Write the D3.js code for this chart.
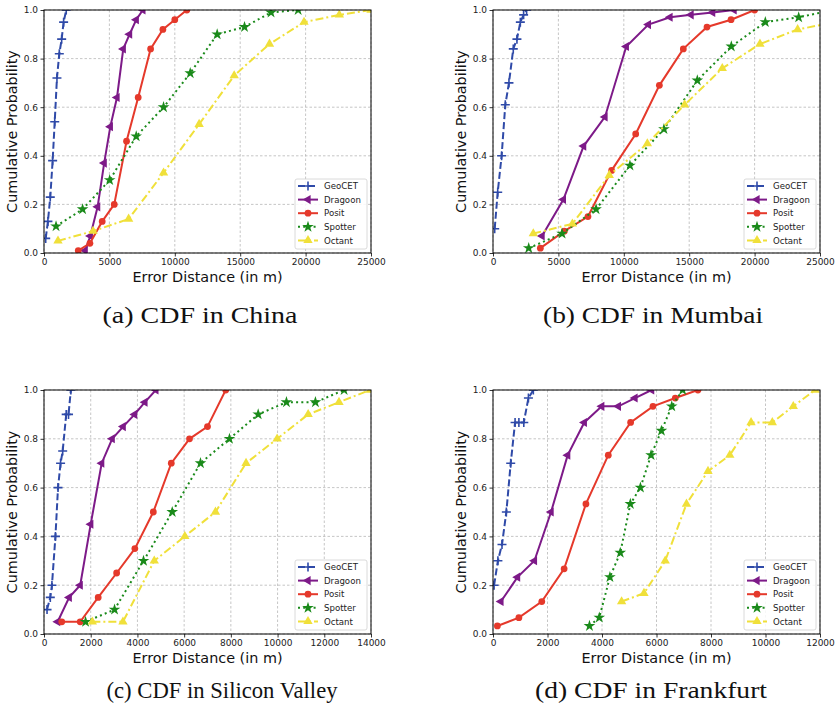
<!DOCTYPE html>
<html>
<head>
<meta charset="utf-8">
<script src="https://cdn.jsdelivr.net/npm/d3@7"></script>
<style>
  html, body { margin: 0; padding: 0; background: #fff; }
  svg { display: block; }
</style>
</head>
<body>
<svg id="chart" width="839" height="706"></svg>
<script>
// ---------------- DATA ----------------
const seriesNames = ["GeoCET", "Dragoon", "Posit", "Spotter", "Octant"];
const yTicks = [0, 0.2, 0.4, 0.6, 0.8, 1.0];
const xTicksChina = [0, 5000, 10000, 15000, 20000, 25000];
const xTicksMumbai = [0, 5000, 10000, 15000, 20000, 25000];
const xTicksSV = [0, 2000, 4000, 6000, 8000, 10000, 12000, 14000];
const xTicksFF = [0, 2000, 4000, 6000, 8000, 10000, 12000];
const captions = ["(a) CDF in China", "(b) CDF in Mumbai", "(c) CDF in Silicon Valley", "(d) CDF in Frankfurt"];

// [error distance (m), cumulative probability]
const chinaGeoCET = [[130,0.06],[300,0.13],[480,0.23],[660,0.38],[820,0.54],[990,0.72],[1170,0.82],[1350,0.88],[1500,0.95],[1700,1.0]];
const chinaDragoon = [[3150,0.01],[3540,0.07],[4100,0.19],[4600,0.37],[5070,0.52],[5580,0.64],[6060,0.84],[6540,0.90],[7050,0.96],[7560,1.0]];
const chinaPosit = [[2620,0.01],[3510,0.04],[4450,0.13],[5370,0.20],[6310,0.46],[7200,0.64],[8150,0.84],[9090,0.92],[10000,0.96],[10920,1.0]];
const chinaSpotter = [[920,0.11],[2950,0.18],[5020,0.30],[7050,0.48],[9140,0.60],[11180,0.74],[13240,0.90],[15330,0.93],[17360,0.99],[19430,1.0]];
const chinaOctant = [[1070,0.05],[3750,0.09],[6470,0.14],[9140,0.33],[11860,0.53],[14540,0.73],[17240,0.86],[19880,0.95],[22580,0.98],[25000,1.0]];

const mumbaiGeoCET = [[130,0.10],[360,0.25],[660,0.40],[940,0.61],[1220,0.70],[1550,0.84],[1830,0.88],[2090,0.95],[2340,0.98],[2570,1.0]];
const mumbaiDragoon = [[3750,0.07],[5380,0.22],[6930,0.44],[8560,0.56],[10190,0.85],[11880,0.94],[13530,0.97],[15140,0.98],[16790,0.99],[18430,1.0]];
const mumbaiPosit = [[3620,0.02],[5450,0.09],[7260,0.15],[9070,0.34],[10910,0.49],[12720,0.69],[14550,0.84],[16360,0.93],[18200,0.96],[20000,1.0]];
const mumbaiSpotter = [[2730,0.02],[5280,0.08],[7880,0.18],[10470,0.36],[13070,0.51],[15620,0.71],[18220,0.85],[20820,0.95],[23370,0.97],[26000,1.0]];
const mumbaiOctant = [[3080,0.08],[6070,0.12],[8890,0.32],[11800,0.45],[14650,0.61],[17530,0.76],[20410,0.86],[23290,0.92],[26200,0.95]];

const svGeoCET = [[130,0.10],[270,0.15],[340,0.20],[490,0.40],[600,0.60],[710,0.70],[800,0.75],[950,0.90],[1050,0.90],[1150,1.0]];
const svDragoon = [[585,0.05],[1080,0.15],[1550,0.20],[2000,0.45],[2470,0.70],[2920,0.80],[3390,0.85],[3880,0.90],[4320,0.95],[4790,1.0]];
const svPosit = [[760,0.05],[1550,0.05],[2320,0.15],[3110,0.25],[3890,0.35],[4680,0.50],[5450,0.70],[6230,0.80],[7000,0.85],[7780,1.0]];
const svSpotter = [[1780,0.05],[3020,0.10],[4260,0.30],[5490,0.50],[6700,0.70],[7940,0.80],[9170,0.90],[10380,0.95],[11620,0.95],[12850,1.0]];
const svOctant = [[2070,0.05],[3380,0.05],[4720,0.30],[6030,0.40],[7340,0.50],[8650,0.70],[9980,0.80],[11310,0.90],[12630,0.95],[13960,1.0]];

const ffGeoCET = [[40,0.2],[180,0.3],[330,0.367],[490,0.5],[650,0.7],[810,0.867],[950,0.867],[1130,0.867],[1300,0.967],[1480,1.0]];
const ffDragoon = [[290,0.133],[900,0.233],[1520,0.3],[2130,0.5],[2740,0.733],[3350,0.867],[3990,0.933],[4600,0.933],[5210,0.967],[5820,1.0]];
const ffPosit = [[160,0.033],[950,0.067],[1790,0.133],[2610,0.267],[3410,0.533],[4230,0.733],[5050,0.867],[5870,0.933],[6690,0.967],[7520,1.0]];
const ffSpotter = [[3540,0.033],[3900,0.067],[4290,0.233],[4670,0.333],[5040,0.533],[5410,0.6],[5800,0.733],[6180,0.833],[6560,0.933],[6960,1.0]];
const ffOctant = [[4720,0.133],[5540,0.167],[6320,0.3],[7100,0.533],[7890,0.667],[8690,0.733],[9470,0.867],[10250,0.867],[11020,0.933],[11820,1.0]];

// ---------------- STYLE ----------------
const styles = {
  GeoCET:  { color: "#2f4aa8", dash: "7,3",      marker: "plus" },
  Dragoon: { color: "#7d1a88", dash: null,       marker: "left" },
  Posit:   { color: "#e5392b", dash: null,       marker: "circle" },
  Spotter: { color: "#1a8a1a", dash: "2,3.2",    marker: "star" },
  Octant:  { color: "#f0e03a", dash: "8,3,2,3",  marker: "up" }
};

const panels = [
  { id: "a", xMax: 25000, xTicks: xTicksChina,  data: [chinaGeoCET, chinaDragoon, chinaPosit, chinaSpotter, chinaOctant],
    x0: 44, x1: 371, y0: 10, y1: 253, cap: captions[0], capX: 200, capY: 323, capW: 195 },
  { id: "b", xMax: 25000, xTicks: xTicksMumbai, data: [mumbaiGeoCET, mumbaiDragoon, mumbaiPosit, mumbaiSpotter, mumbaiOctant],
    x0: 493, x1: 820, y0: 10, y1: 253, cap: captions[1], capX: 653, capY: 323, capW: 220 },
  { id: "c", xMax: 14000, xTicks: xTicksSV,     data: [svGeoCET, svDragoon, svPosit, svSpotter, svOctant],
    x0: 44, x1: 371, y0: 390, y1: 634, cap: captions[2], capX: 222, capY: 698, capW: 231 },
  { id: "d", xMax: 12000, xTicks: xTicksFF,     data: [ffGeoCET, ffDragoon, ffPosit, ffSpotter, ffOctant],
    x0: 493, x1: 820, y0: 390, y1: 634, cap: captions[3], capX: 651, capY: 698, capW: 232 }
];

const svg = d3.select("#chart");
const defs = svg.append("defs");

function drawMarker(g, type, color, x, y) {
  if (type === "plus") {
    g.append("path").attr("d", `M${x-4.5},${y}H${x+4.5}M${x},${y-4.5}V${y+4.5}`)
      .attr("stroke", color).attr("stroke-width", 1.6).attr("fill", "none");
  } else if (type === "circle") {
    g.append("path").attr("d", d3.symbol(d3.symbolCircle, 36)())
      .attr("transform", `translate(${x},${y})`).attr("fill", color);
  } else if (type === "star") {
    g.append("path").attr("d", d3.symbol(d3.symbolStar, 42)())
      .attr("transform", `translate(${x},${y})`).attr("fill", color);
  } else if (type === "left") {
    g.append("path").attr("d", d3.symbol(d3.symbolTriangle, 36)())
      .attr("transform", `translate(${x},${y}) rotate(-90)`).attr("fill", color);
  } else if (type === "up") {
    g.append("path").attr("d", d3.symbol(d3.symbolTriangle, 38)())
      .attr("transform", `translate(${x},${y})`).attr("fill", color);
  }
}

panels.forEach(p => {
  const x = d3.scaleLinear().domain([0, p.xMax]).range([p.x0, p.x1]);
  const y = d3.scaleLinear().domain([0, 1]).range([p.y1, p.y0]);
  const g = svg.append("g");

  // grid
  const grid = g.append("g").attr("stroke", "#b8b8b8").attr("stroke-width", 0.8).attr("stroke-dasharray", "2.5,2");
  p.xTicks.forEach(t => grid.append("line").attr("x1", x(t)).attr("x2", x(t)).attr("y1", p.y0).attr("y2", p.y1));
  yTicks.forEach(t => grid.append("line").attr("x1", p.x0).attr("x2", p.x1).attr("y1", y(t)).attr("y2", y(t)));

  // clip
  defs.append("clipPath").attr("id", "clip-" + p.id)
    .append("rect").attr("x", p.x0).attr("y", p.y0).attr("width", p.x1 - p.x0).attr("height", p.y1 - p.y0);
  const plot = g.append("g").attr("clip-path", `url(#clip-${p.id})`);

  const line = d3.line().x(d => x(d[0])).y(d => y(d[1]));
  seriesNames.forEach((name, i) => {
    const s = styles[name];
    const data = p.data[i];
    const sg = plot.append("g");
    sg.append("path").attr("d", line(data)).attr("fill", "none")
      .attr("stroke", s.color).attr("stroke-width", 2)
      .attr("stroke-dasharray", s.dash);
    data.forEach(d => drawMarker(sg, s.marker, s.color, x(d[0]), y(d[1])));
  });

  // axes
  const xAxis = d3.axisBottom(x).tickValues(p.xTicks).tickFormat(d3.format("d")).tickSize(3.5).tickPadding(2.5);
  const yAxis = d3.axisLeft(y).tickValues(yTicks).tickFormat(d3.format(".1f")).tickSize(3.5).tickPadding(2.5);
  const xa = g.append("g").attr("transform", `translate(0,${p.y1})`).call(xAxis);
  const ya = g.append("g").attr("transform", `translate(${p.x0},0)`).call(yAxis);
  [xa, ya].forEach(a => {
    a.select(".domain").remove();
    a.selectAll("text").attr("font-family", "DejaVu Sans").attr("font-size", 9).attr("fill", "#222");
    a.selectAll("line").attr("stroke", "#000").attr("stroke-width", 0.8);
  });

  // spines
  g.append("rect").attr("x", p.x0).attr("y", p.y0).attr("width", p.x1 - p.x0).attr("height", p.y1 - p.y0)
    .attr("fill", "none").attr("stroke", "#000").attr("stroke-width", 1);

  // axis labels
  g.append("text").attr("x", (p.x0 + p.x1) / 2).attr("y", p.y1 + 29)
    .attr("text-anchor", "middle").attr("font-family", "DejaVu Sans").attr("font-size", 14.4).attr("fill", "#111")
    .text("Error Distance (in m)");
  g.append("text").attr("transform", `translate(${p.x0 - 27},${(p.y0 + p.y1) / 2}) rotate(-90)`)
    .attr("text-anchor", "middle").attr("font-family", "DejaVu Sans").attr("font-size", 14.4).attr("fill", "#111")
    .text("Cumulative Probability");

  // legend
  const lw = 72, lh = 70;
  const lx = p.x1 - 4 - lw, ly = p.y1 - 4 - lh;
  const leg = g.append("g");
  leg.append("rect").attr("x", lx).attr("y", ly).attr("width", lw).attr("height", lh).attr("rx", 2)
    .attr("fill", "#fff").attr("fill-opacity", 0.85).attr("stroke", "#d0d0d0").attr("stroke-width", 0.8);
  seriesNames.forEach((name, i) => {
    const s = styles[name];
    const cy = ly + 7 + i * 13.6;
    leg.append("line").attr("x1", lx + 3).attr("x2", lx + 23).attr("y1", cy).attr("y2", cy)
      .attr("stroke", s.color).attr("stroke-width", 2).attr("stroke-dasharray", s.dash);
    drawMarker(leg, s.marker, s.color, lx + 13, cy);
    leg.append("text").attr("x", lx + 29).attr("y", cy + 3.2)
      .attr("font-family", "DejaVu Sans").attr("font-size", 8.6).attr("fill", "#222").text(name);
  });

  // caption
  svg.append("text").attr("x", p.capX).attr("y", p.capY).attr("text-anchor", "middle")
    .attr("font-family", "Liberation Serif").attr("font-size", 23).attr("fill", "#111")
    .attr("textLength", p.capW).attr("lengthAdjust", "spacingAndGlyphs")
    .text(p.cap);
});
</script>
</body>
</html>
